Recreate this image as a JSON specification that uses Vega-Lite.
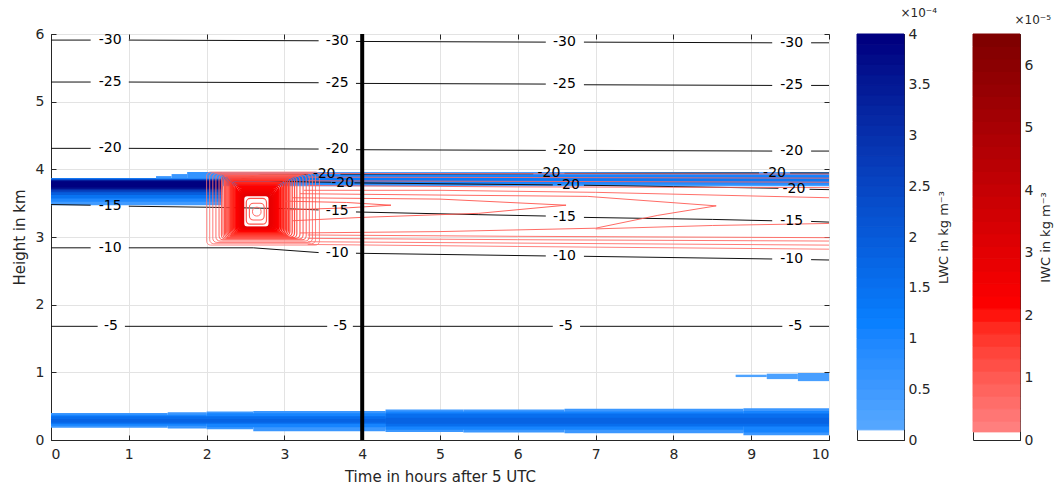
{
"$schema": "https://vega.github.io/schema/vega-lite/v6.json",
"background": "white",
"padding": {"left": 11, "top": 6, "right": 0, "bottom": 0},
"config": {
  "font": "DejaVu Sans",
  "view": {"stroke": "#262626", "strokeWidth": 1},
  "axis": {"labelFont": "DejaVu Sans", "titleFont": "DejaVu Sans", "labelFontSize": 14, "titleFontSize": 15, "labelColor": "#262626", "titleColor": "#262626", "titleFontWeight": "normal", "domainColor": "#262626", "tickColor": "#262626", "gridColor": "#e3e3e3", "zindex": 1},
  "title": {"font": "DejaVu Sans", "fontWeight": "normal", "color": "#262626"}
},
"datasets": {
  "lwc": [
    {"x":0,"x2":2.2,"y":3.47,"y2":3.87,"v":0.5},
    {"x":0,"x2":2.2,"y":3.52,"y2":3.87,"v":1.0},
    {"x":0,"x2":2.2,"y":3.57,"y2":3.865,"v":1.5},
    {"x":0,"x2":2.2,"y":3.62,"y2":3.86,"v":2.0},
    {"x":0,"x2":2.2,"y":3.66,"y2":3.85,"v":2.6},
    {"x":0,"x2":2.2,"y":3.69,"y2":3.84,"v":3.2},
    {"x":0,"x2":2.2,"y":3.71,"y2":3.835,"v":3.7},
    {"x":0,"x2":2.2,"y":3.73,"y2":3.825,"v":4.0},
    {"x":1.35,"x2":1.55,"y":3.865,"y2":3.90,"v":0.6},
    {"x":1.55,"x2":1.75,"y":3.865,"y2":3.93,"v":0.6},
    {"x":1.75,"x2":2.2,"y":3.865,"y2":3.96,"v":0.7},
    {"x":2.2,"x2":10,"y":3.75,"y2":3.96,"v":0.4},
    {"x":2.2,"x2":10,"y":3.77,"y2":3.94,"v":0.8},
    {"x":2.2,"x2":10,"y":3.79,"y2":3.92,"v":1.1},
    {"x":2.2,"x2":10,"y":3.82,"y2":3.89,"v":1.35},
    {"x":0,"x2":1.5,"y":0.18,"y2":0.40,"v":0.6},
    {"x":1.5,"x2":2.0,"y":0.17,"y2":0.41,"v":0.6},
    {"x":2.0,"x2":2.6,"y":0.16,"y2":0.42,"v":0.6},
    {"x":2.6,"x2":4.3,"y":0.13,"y2":0.43,"v":0.6},
    {"x":4.3,"x2":5.3,"y":0.12,"y2":0.45,"v":0.6},
    {"x":5.3,"x2":6.6,"y":0.11,"y2":0.45,"v":0.6},
    {"x":6.6,"x2":8.9,"y":0.10,"y2":0.46,"v":0.6},
    {"x":8.9,"x2":10,"y":0.07,"y2":0.47,"v":0.6},
    {"x":0,"x2":2.0,"y":0.21,"y2":0.375,"v":1.1},
    {"x":2.0,"x2":4.3,"y":0.19,"y2":0.395,"v":1.1},
    {"x":4.3,"x2":8.9,"y":0.15,"y2":0.42,"v":1.1},
    {"x":8.9,"x2":10,"y":0.11,"y2":0.43,"v":1.1},
    {"x":0,"x2":4.3,"y":0.24,"y2":0.35,"v":1.6},
    {"x":4.3,"x2":10,"y":0.20,"y2":0.39,"v":1.6},
    {"x":0,"x2":4.3,"y":0.26,"y2":0.31,"v":1.85},
    {"x":4.3,"x2":10,"y":0.24,"y2":0.33,"v":1.85},
    {"x":8.8,"x2":9.2,"y":0.93,"y2":0.965,"v":0.3},
    {"x":9.2,"x2":9.6,"y":0.90,"y2":0.98,"v":0.35},
    {"x":9.6,"x2":10,"y":0.87,"y2":0.99,"v":0.4}
  ],
  "blob": [
    {"x":2.00,"x2":3.45,"y":2.88,"y2":3.96,"v":0.5},
    {"x":2.04,"x2":3.40,"y":2.90,"y2":3.95,"v":0.6},
    {"x":2.08,"x2":3.36,"y":2.92,"y2":3.94,"v":0.7},
    {"x":2.12,"x2":3.32,"y":2.94,"y2":3.93,"v":0.8},
    {"x":2.16,"x2":3.28,"y":2.96,"y2":3.92,"v":0.9},
    {"x":2.19,"x2":3.24,"y":2.97,"y2":3.91,"v":1.0},
    {"x":2.21,"x2":3.20,"y":2.98,"y2":3.90,"v":1.1},
    {"x":2.23,"x2":3.16,"y":2.99,"y2":3.89,"v":1.2},
    {"x":2.245,"x2":3.13,"y":3.00,"y2":3.88,"v":1.3},
    {"x":2.26,"x2":3.10,"y":3.01,"y2":3.87,"v":1.4},
    {"x":2.275,"x2":3.07,"y":3.02,"y2":3.86,"v":1.5},
    {"x":2.29,"x2":3.05,"y":3.03,"y2":3.85,"v":1.6},
    {"x":2.305,"x2":3.03,"y":3.04,"y2":3.84,"v":1.7},
    {"x":2.32,"x2":3.01,"y":3.05,"y2":3.83,"v":1.8},
    {"x":2.335,"x2":2.99,"y":3.06,"y2":3.81,"v":1.9},
    {"x":2.35,"x2":2.97,"y":3.07,"y2":3.79,"v":2.0},
    {"x":2.365,"x2":2.95,"y":3.08,"y2":3.77,"v":2.1},
    {"x":2.38,"x2":2.93,"y":3.09,"y2":3.75,"v":2.2},
    {"x":2.395,"x2":2.915,"y":3.10,"y2":3.73,"v":2.3},
    {"x":2.41,"x2":2.90,"y":3.11,"y2":3.71,"v":2.4},
    {"x":2.42,"x2":2.885,"y":3.115,"y2":3.69,"v":2.5},
    {"x":2.43,"x2":2.87,"y":3.12,"y2":3.675,"v":2.6},
    {"x":2.44,"x2":2.855,"y":3.125,"y2":3.66,"v":2.7},
    {"x":2.45,"x2":2.84,"y":3.13,"y2":3.645,"v":2.8},
    {"x":2.46,"x2":2.825,"y":3.135,"y2":3.63,"v":2.9},
    {"x":2.47,"x2":2.81,"y":3.14,"y2":3.62,"v":3.0},
    {"x":2.51,"x2":2.77,"y":3.19,"y2":3.57,"v":1.2},
    {"x":2.55,"x2":2.74,"y":3.25,"y2":3.50,"v":1.0},
    {"x":2.59,"x2":2.70,"y":3.31,"y2":3.44,"v":0.8}
  ],
  "iwcl": [
    {"c":"L1","o":1,"t":3.3,"h":3.94,"v":0.6},{"c":"L1","o":2,"t":10,"h":3.93,"v":0.6},
    {"c":"L2","o":1,"t":3.3,"h":3.885,"v":0.7},{"c":"L2","o":2,"t":10,"h":3.87,"v":0.7},
    {"c":"L3","o":1,"t":3.3,"h":3.83,"v":0.8},{"c":"L3","o":2,"t":10,"h":3.81,"v":0.8},
    {"c":"L4","o":1,"t":3.3,"h":3.76,"v":0.9},{"c":"L4","o":2,"t":6,"h":3.74,"v":0.9},{"c":"L4","o":3,"t":10,"h":3.73,"v":0.9},
    {"c":"L5","o":1,"t":3.25,"h":3.69,"v":1.0},{"c":"L5","o":2,"t":5,"h":3.69,"v":1.0},{"c":"L5","o":3,"t":7,"h":3.66,"v":1.0},{"c":"L5","o":4,"t":10,"h":3.58,"v":1.0},
    {"c":"T3","o":1,"t":3.2,"h":3.64,"v":1.1},{"c":"T3","o":2,"t":5,"h":3.62,"v":1.1},{"c":"T3","o":3,"t":6.9,"h":3.60,"v":1.1},{"c":"T3","o":4,"t":8.55,"h":3.46,"v":1.1},{"c":"T3","o":5,"t":7.8,"h":3.32,"v":1.1},{"c":"T3","o":6,"t":7.0,"h":3.13,"v":1.1},{"c":"T3","o":7,"t":5,"h":3.08,"v":1.1},{"c":"T3","o":8,"t":3.2,"h":3.06,"v":1.1},
    {"c":"T2","o":1,"t":3.1,"h":3.58,"v":1.2},{"c":"T2","o":2,"t":5,"h":3.56,"v":1.2},{"c":"T2","o":3,"t":6.62,"h":3.47,"v":1.2},{"c":"T2","o":4,"t":5.5,"h":3.35,"v":1.2},{"c":"T2","o":5,"t":4,"h":3.29,"v":1.2},{"c":"T2","o":6,"t":3.1,"h":3.24,"v":1.2},
    {"c":"T1","o":1,"t":3.0,"h":3.53,"v":1.3},{"c":"T1","o":2,"t":3.8,"h":3.51,"v":1.3},{"c":"T1","o":3,"t":4.37,"h":3.47,"v":1.3},{"c":"T1","o":4,"t":3.8,"h":3.43,"v":1.3},{"c":"T1","o":5,"t":3.0,"h":3.40,"v":1.3},
    {"c":"L6","o":1,"t":3.3,"h":3.03,"v":0.9},{"c":"L6","o":2,"t":6,"h":3.01,"v":0.9},{"c":"L6","o":3,"t":10,"h":2.99,"v":0.9},
    {"c":"L7","o":1,"t":3.3,"h":2.98,"v":0.8},{"c":"L7","o":2,"t":6,"h":2.96,"v":0.8},{"c":"L7","o":3,"t":10,"h":2.94,"v":0.8},
    {"c":"L8","o":1,"t":3.3,"h":2.93,"v":0.7},{"c":"L8","o":2,"t":6,"h":2.91,"v":0.7},{"c":"L8","o":3,"t":10,"h":2.88,"v":0.7},
    {"c":"L9","o":1,"t":3.3,"h":2.89,"v":0.6},{"c":"L9","o":2,"t":6,"h":2.86,"v":0.6},{"c":"L9","o":3,"t":10,"h":2.82,"v":0.6},
    {"c":"L10","o":1,"t":7.0,"h":3.12,"v":1.0},{"c":"L10","o":2,"t":8.5,"h":3.17,"v":1.0},{"c":"L10","o":3,"t":10,"h":3.2,"v":1.0}
  ],
  "temp": [
    {"s":"30a","t":0,"h":5.91},{"s":"30a","t":0.51,"h":5.91},
    {"s":"30b","t":1.0,"h":5.91},{"s":"30b","t":3.44,"h":5.90},
    {"s":"30c","t":3.92,"h":5.89},{"s":"30c","t":6.36,"h":5.88},
    {"s":"30d","t":6.85,"h":5.88},{"s":"30d","t":9.27,"h":5.87},
    {"s":"30e","t":9.77,"h":5.87},{"s":"30e","t":10,"h":5.87},
    {"s":"25a","t":0,"h":5.29},{"s":"25a","t":0.51,"h":5.29},
    {"s":"25b","t":1.0,"h":5.29},{"s":"25b","t":3.44,"h":5.28},
    {"s":"25c","t":3.92,"h":5.27},{"s":"25c","t":6.36,"h":5.26},
    {"s":"25d","t":6.85,"h":5.25},{"s":"25d","t":9.27,"h":5.24},
    {"s":"25e","t":9.77,"h":5.24},{"s":"25e","t":10,"h":5.24},
    {"s":"20a","t":0,"h":4.31},{"s":"20a","t":0.51,"h":4.31},
    {"s":"20b","t":1.0,"h":4.31},{"s":"20b","t":3.44,"h":4.30},
    {"s":"20c","t":3.92,"h":4.29},{"s":"20c","t":6.36,"h":4.28},
    {"s":"20d","t":6.85,"h":4.28},{"s":"20d","t":9.27,"h":4.27},
    {"s":"20e","t":9.77,"h":4.27},{"s":"20e","t":10,"h":4.27},
    {"s":"15a","t":0,"h":3.48},{"s":"15a","t":0.51,"h":3.47},
    {"s":"15b","t":1.0,"h":3.455},{"s":"15b","t":2.0,"h":3.44},{"s":"15b","t":3.0,"h":3.42},{"s":"15b","t":3.44,"h":3.40},
    {"s":"15c","t":3.92,"h":3.37},{"s":"15c","t":5.5,"h":3.33},{"s":"15c","t":6.36,"h":3.31},
    {"s":"15d","t":6.85,"h":3.29},{"s":"15d","t":8.5,"h":3.26},{"s":"15d","t":9.27,"h":3.24},
    {"s":"15e","t":9.77,"h":3.23},{"s":"15e","t":10,"h":3.22},
    {"s":"10a","t":0,"h":2.84},{"s":"10a","t":0.51,"h":2.84},
    {"s":"10b","t":1.0,"h":2.84},{"s":"10b","t":2.6,"h":2.84},{"s":"10b","t":3.44,"h":2.77},
    {"s":"10c","t":3.92,"h":2.76},{"s":"10c","t":6.36,"h":2.72},
    {"s":"10d","t":6.85,"h":2.715},{"s":"10d","t":9.27,"h":2.675},
    {"s":"10e","t":9.77,"h":2.665},{"s":"10e","t":10,"h":2.66},
    {"s":"5a","t":0,"h":1.68},{"s":"5a","t":0.6,"h":1.68},
    {"s":"5b","t":0.95,"h":1.68},{"s":"5b","t":3.55,"h":1.68},
    {"s":"5c","t":3.88,"h":1.68},{"s":"5c","t":6.45,"h":1.68},
    {"s":"5d","t":6.8,"h":1.68},{"s":"5d","t":9.4,"h":1.68},
    {"s":"5e","t":9.75,"h":1.68},{"s":"5e","t":10,"h":1.68},
    {"s":"Aa","t":2.45,"h":3.86},{"s":"Aa","t":2.7,"h":3.92},{"s":"Aa","t":3.3,"h":3.925},
    {"s":"Ab","t":3.72,"h":3.93},{"s":"Ab","t":6.2,"h":3.935},
    {"s":"Ac","t":6.6,"h":3.94},{"s":"Ac","t":9.1,"h":3.945},
    {"s":"Ad","t":9.5,"h":3.945},{"s":"Ad","t":10,"h":3.945},
    {"s":"Ba","t":2.45,"h":3.86},{"s":"Ba","t":3.0,"h":3.82},{"s":"Ba","t":3.6,"h":3.81},
    {"s":"Bb","t":3.9,"h":3.80},{"s":"Bb","t":6.45,"h":3.77},
    {"s":"Bc","t":6.85,"h":3.765},{"s":"Bc","t":8.0,"h":3.745},{"s":"Bc","t":9.35,"h":3.72},
    {"s":"Bd","t":9.75,"h":3.705},{"s":"Bd","t":10,"h":3.70}
  ],
  "labels": [
    {"t":0.76,"h":5.91,"lab":"-30"},{"t":3.68,"h":5.90,"lab":"-30"},{"t":6.6,"h":5.88,"lab":"-30"},{"t":9.52,"h":5.87,"lab":"-30"},
    {"t":0.76,"h":5.29,"lab":"-25"},{"t":3.68,"h":5.28,"lab":"-25"},{"t":6.6,"h":5.255,"lab":"-25"},{"t":9.52,"h":5.24,"lab":"-25"},
    {"t":0.76,"h":4.31,"lab":"-20"},{"t":3.68,"h":4.295,"lab":"-20"},{"t":6.6,"h":4.28,"lab":"-20"},{"t":9.52,"h":4.27,"lab":"-20"},
    {"t":0.76,"h":3.465,"lab":"-15"},{"t":3.68,"h":3.385,"lab":"-15"},{"t":6.6,"h":3.30,"lab":"-15"},{"t":9.52,"h":3.235,"lab":"-15"},
    {"t":0.76,"h":2.84,"lab":"-10"},{"t":3.68,"h":2.765,"lab":"-10"},{"t":6.6,"h":2.718,"lab":"-10"},{"t":9.52,"h":2.67,"lab":"-10"},
    {"t":0.77,"h":1.68,"lab":"-5"},{"t":3.72,"h":1.68,"lab":"-5"},{"t":6.62,"h":1.68,"lab":"-5"},{"t":9.57,"h":1.68,"lab":"-5"},
    {"t":3.51,"h":3.925,"lab":"-20"},{"t":6.4,"h":3.94,"lab":"-20"},{"t":9.3,"h":3.945,"lab":"-20"},
    {"t":3.75,"h":3.805,"lab":"-20"},{"t":6.65,"h":3.77,"lab":"-20"},{"t":9.55,"h":3.71,"lab":"-20"}
  ],
  "bbar": [
    {"a":0.1,"b":0.2},{"a":0.2,"b":0.3},{"a":0.3,"b":0.4},{"a":0.4,"b":0.5},{"a":0.5,"b":0.6},{"a":0.6,"b":0.7},{"a":0.7,"b":0.8},{"a":0.8,"b":0.9},{"a":0.9,"b":1.0},{"a":1.0,"b":1.1},
    {"a":1.1,"b":1.2},{"a":1.2,"b":1.3},{"a":1.3,"b":1.4},{"a":1.4,"b":1.5},{"a":1.5,"b":1.6},{"a":1.6,"b":1.7},{"a":1.7,"b":1.8},{"a":1.8,"b":1.9},{"a":1.9,"b":2.0},{"a":2.0,"b":2.1},
    {"a":2.1,"b":2.2},{"a":2.2,"b":2.3},{"a":2.3,"b":2.4},{"a":2.4,"b":2.5},{"a":2.5,"b":2.6},{"a":2.6,"b":2.7},{"a":2.7,"b":2.8},{"a":2.8,"b":2.9},{"a":2.9,"b":3.0},{"a":3.0,"b":3.1},
    {"a":3.1,"b":3.2},{"a":3.2,"b":3.3},{"a":3.3,"b":3.4},{"a":3.4,"b":3.5},{"a":3.5,"b":3.6},{"a":3.6,"b":3.7},{"a":3.7,"b":3.8},{"a":3.8,"b":3.9},{"a":3.9,"b":4.0}
  ],
  "rbar": [
    {"a":0.13,"b":0.3},{"a":0.3,"b":0.5},{"a":0.5,"b":0.7},{"a":0.7,"b":0.9},{"a":0.9,"b":1.1},{"a":1.1,"b":1.3},{"a":1.3,"b":1.5},{"a":1.5,"b":1.7},
    {"a":1.7,"b":1.9},{"a":1.9,"b":2.1},{"a":2.1,"b":2.3},{"a":2.3,"b":2.5},{"a":2.5,"b":2.7},{"a":2.7,"b":2.9},{"a":2.9,"b":3.1},{"a":3.1,"b":3.3},
    {"a":3.3,"b":3.5},{"a":3.5,"b":3.7},{"a":3.7,"b":3.9},{"a":3.9,"b":4.1},{"a":4.1,"b":4.3},{"a":4.3,"b":4.5},{"a":4.5,"b":4.7},{"a":4.7,"b":4.9},
    {"a":4.9,"b":5.1},{"a":5.1,"b":5.3},{"a":5.3,"b":5.5},{"a":5.5,"b":5.7},{"a":5.7,"b":5.9},{"a":5.9,"b":6.1},{"a":6.1,"b":6.3},{"a":6.3,"b":6.5}
  ],
  "vline": [{"t":4}]
},
"resolve": {"scale": {"color": "independent", "stroke": "independent", "y": "independent"}},
"spacing": 26,
"hconcat": [
  {
    "width": 778, "height": 406,
    "title": {"text": " ", "fontSize": 12, "offset": 7},
    "resolve": {"scale": {"color": "independent", "stroke": "shared"}, "axis": {"x": "independent", "y": "independent"}},
    "layer": [
      {
        "data": {"name": "lwc"},
        "mark": {"type": "rect", "clip": true, "strokeWidth": 0.6},
        "encoding": {
          "x": {"field": "x", "type": "quantitative", "scale": {"domain": [0, 10], "nice": false},
                "axis": {"title": "Time in hours after 5 UTC", "values": [0,1,2,3,4,5,6,7,8,9,10], "format": "d", "grid": true, "tickSize": -5, "labelPadding": 12, "titlePadding": 8}},
          "x2": {"field": "x2"},
          "y": {"field": "y", "type": "quantitative", "scale": {"domain": [0, 6], "nice": false},
                "axis": {"title": "Height in km", "values": [0,1,2,3,4,5,6], "format": "d", "grid": true, "tickSize": -5, "labelPadding": 12, "titlePadding": 8}},
          "y2": {"field": "y2"},
          "color": {"field": "v", "type": "quantitative", "scale": {"domain": [0.1, 1.2, 4], "range": ["#5aaaff", "#0a80ff", "#000080"], "clamp": true}, "legend": null}
        }
      },
      {
        "data": {"name": "temp"},
        "mark": {"type": "line", "color": "#111111", "strokeWidth": 1, "clip": true},
        "encoding": {
          "x": {"field": "t", "type": "quantitative", "axis": null},
          "y": {"field": "h", "type": "quantitative", "axis": null},
          "detail": {"field": "s"},
          "order": {"field": "t"}
        }
      },
      {
        "data": {"name": "blob"},
        "mark": {"type": "rect", "fill": "transparent", "cornerRadius": 4, "clip": true},
        "encoding": {
          "x": {"field": "x", "type": "quantitative", "axis": null},
          "x2": {"field": "x2"},
          "y": {"field": "y", "type": "quantitative", "axis": null},
          "y2": {"field": "y2"},
          "stroke": {"field": "v", "type": "quantitative", "scale": {"domain": [0.1, 2.2, 6.5], "range": ["#ff8888", "#ff0000", "#800000"], "clamp": true}, "legend": null},
          "strokeWidth": {"field": "v", "type": "quantitative", "scale": {"domain": [0.5, 3], "range": [0.8, 2.2], "clamp": true}, "legend": null}
        }
      },
      {
        "data": {"name": "iwcl"},
        "mark": {"type": "line", "strokeWidth": 0.9, "clip": true},
        "encoding": {
          "x": {"field": "t", "type": "quantitative", "axis": null},
          "y": {"field": "h", "type": "quantitative", "axis": null},
          "detail": {"field": "c"},
          "order": {"field": "o"},
          "stroke": {"field": "v", "type": "quantitative", "scale": {"domain": [0.1, 2.2, 6.5], "range": ["#ff8888", "#ff0000", "#800000"], "clamp": true}, "legend": null}
        }
      },
      {
        "data": {"name": "labels"},
        "mark": {"type": "text", "fontSize": 14, "color": "#000000", "font": "DejaVu Sans", "baseline": "middle", "align": "center"},
        "encoding": {
          "x": {"field": "t", "type": "quantitative",
                "axis": {"orient": "top", "values": [0,1,2,3,4,5,6,7,8,9,10], "labels": false, "title": null, "domain": false, "grid": false, "tickSize": -5}},
          "y": {"field": "h", "type": "quantitative",
                "axis": {"orient": "right", "values": [0,1,2,3,4,5,6], "labels": false, "title": null, "domain": false, "grid": false, "tickSize": -5}},
          "text": {"field": "lab"}
        }
      },
      {
        "data": {"name": "vline"},
        "mark": {"type": "rule", "strokeWidth": 4, "color": "#000000"},
        "encoding": {"x": {"field": "t", "type": "quantitative", "axis": null}}
      }
    ]
  },
  {
    "spacing": 21,
    "resolve": {"scale": {"color": "independent", "stroke": "independent", "y": "independent"}},
    "hconcat": [
      {
        "width": 47, "height": 406,
        "title": {"text": "×10⁻⁴", "anchor": "start", "dx": 44, "fontSize": 12, "offset": 7},
        "data": {"name": "bbar"},
        "mark": {"type": "rect", "strokeWidth": 1},
        "encoding": {
          "y": {"field": "a", "type": "quantitative", "scale": {"domain": [0, 4], "nice": false},
                "axis": {"orient": "right", "values": [0,0.5,1,1.5,2,2.5,3,3.5,4], "format": "~g", "grid": false, "tickSize": -4, "labelPadding": 8, "labelFontSize": 14, "title": "LWC in kg m⁻³", "titleFontSize": 13, "titleAngle": 270, "titlePadding": 20}},
          "y2": {"field": "b"},
          "color": {"field": "b", "type": "quantitative", "scale": {"domain": [0.1, 1.2, 4], "range": ["#5aaaff", "#0a80ff", "#000080"], "clamp": true}, "legend": null},
          "stroke": {"field": "b", "type": "quantitative", "scale": {"domain": [0.1, 1.2, 4], "range": ["#5aaaff", "#0a80ff", "#000080"], "clamp": true}, "legend": null}
        }
      },
      {
        "width": 47, "height": 406,
        "title": {"text": "×10⁻⁵", "anchor": "start", "dx": 42, "fontSize": 12, "offset": 7},
        "data": {"name": "rbar"},
        "mark": {"type": "rect", "strokeWidth": 1},
        "encoding": {
          "y": {"field": "a", "type": "quantitative", "scale": {"domain": [0, 6.5], "nice": false},
                "axis": {"orient": "right", "values": [0,1,2,3,4,5,6], "format": "~g", "grid": false, "tickSize": -4, "labelPadding": 8, "labelFontSize": 14, "title": "IWC in kg m⁻³", "titleFontSize": 13, "titleAngle": 270, "titlePadding": 20}},
          "y2": {"field": "b"},
          "color": {"field": "b", "type": "quantitative", "scale": {"domain": [0.1, 2.2, 6.5], "range": ["#ff8888", "#ff0000", "#800000"], "clamp": true}, "legend": null},
          "stroke": {"field": "b", "type": "quantitative", "scale": {"domain": [0.1, 2.2, 6.5], "range": ["#ff8888", "#ff0000", "#800000"], "clamp": true}, "legend": null}
        }
      }
    ]
  }
]
}
